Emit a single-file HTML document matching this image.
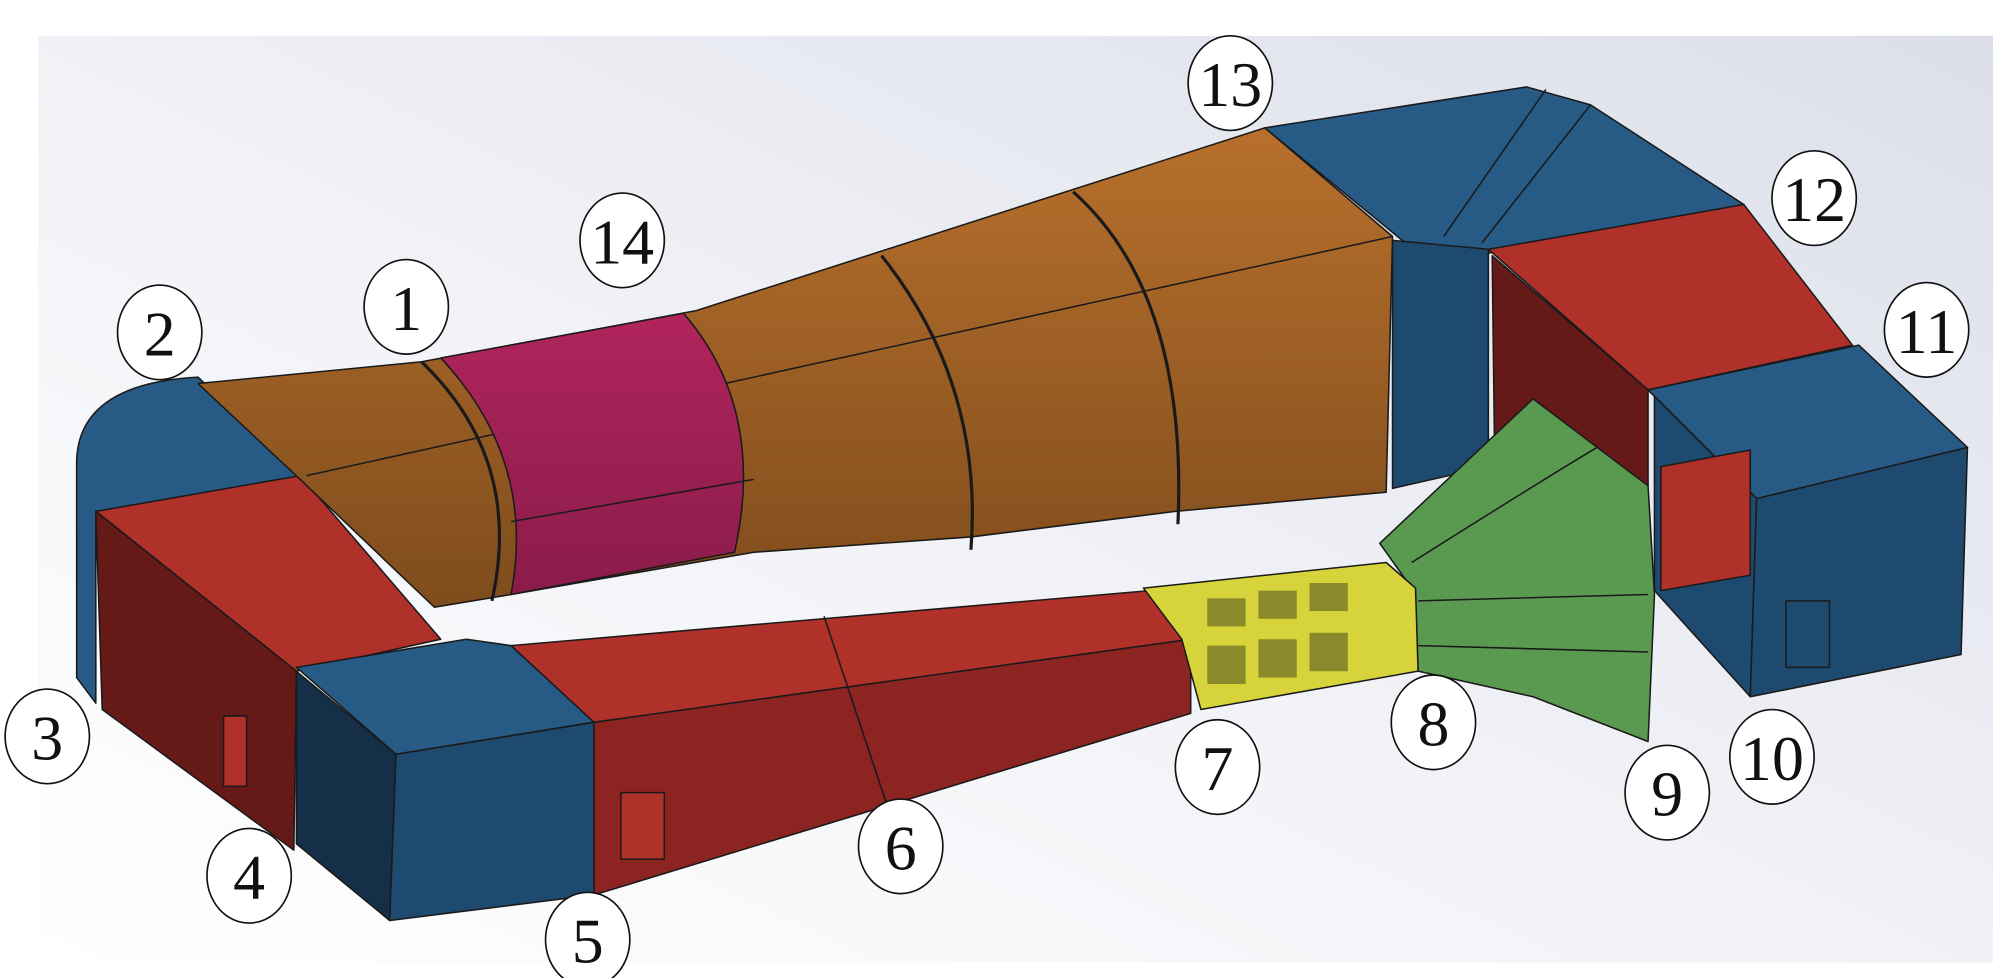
<!DOCTYPE html>
<html><head><meta charset="utf-8"><style>
html,body{margin:0;padding:0;background:#fff;}
svg{display:block;}
text{font-family:"Liberation Serif",serif;}
</style></head><body>
<svg width="1993" height="978" viewBox="0 0 1560 765" preserveAspectRatio="none" xmlns="http://www.w3.org/2000/svg">
<defs>
<linearGradient id="bg" x1="0" y1="1" x2="1" y2="0">
<stop offset="0" stop-color="#ffffff"/><stop offset="0.45" stop-color="#f2f3f7"/><stop offset="1" stop-color="#dcdfea"/>
</linearGradient>
<linearGradient id="org" x1="0" y1="0" x2="0" y2="1">
<stop offset="0" stop-color="#b8702c"/><stop offset="1" stop-color="#7e4c1c"/>
</linearGradient>
<linearGradient id="pnk" x1="0" y1="0" x2="0" y2="1">
<stop offset="0" stop-color="#b0245c"/><stop offset="1" stop-color="#8a1c4a"/>
</linearGradient>
</defs>
<rect x="0" y="0" width="1560" height="765" fill="#fff"/>
<rect x="30" y="28" width="1530" height="725" fill="url(#bg)"/>
<g stroke="#1a1a1a" stroke-width="1.2" stroke-linejoin="round">
<path d="M60,360 Q62,300 155,295 L240,375 L75,400 L75,550 L60,530 Z" fill="#275a85"/>
<polygon points="75,400 235,372 345,500 232,525" fill="#b0302a"/>
<polygon points="75,400 232,525 230,665 80,555" fill="#651a18"/>
<rect x="175" y="560" width="18" height="55" fill="#b0302a"/>
<polygon points="232,522 365,500 400,505 465,565 310,590" fill="#275a85"/>
<polygon points="232,525 310,590 305,720 232,660" fill="#152f48"/>
<polygon points="310,590 465,565 465,700 305,720" fill="#1f4a70"/>
<polygon points="400,505 900,462 932,500 465,565" fill="#b0302a"/>
<polygon points="465,565 932,500 932,558 465,700" fill="#8c2422"/>
<line x1="645" y1="482" x2="695" y2="632"/>
<rect x="486" y="620" width="34" height="52" fill="#b0302a"/>
<polygon points="155,300 330,283 545,243 990,100 1090,185 1085,385 920,400 760,420 590,432 400,465 340,475 235,375" fill="url(#org)"/>
<line x1="240" y1="372" x2="1090" y2="185"/>
<path d="M690,200 Q770,300 760,430" fill="none" stroke-width="2.5"/>
<path d="M840,150 Q930,230 922,410" fill="none" stroke-width="2.5"/>
<path d="M330,283 Q410,360 385,470" fill="none" stroke-width="2.5"/>
<path d="M345,280 L535,245 Q600,320 575,432 L400,465 Q420,360 345,280 Z" fill="url(#pnk)"/>
<line x1="400" y1="408" x2="590" y2="375"/>
<polygon points="990,100 1195,68 1245,82 1365,160 1165,198 1100,190" fill="#275a85"/>
<line x1="1130" y1="185" x2="1210" y2="70"/><line x1="1160" y1="190" x2="1245" y2="82"/>
<polygon points="1090,188 1165,195 1165,365 1090,382" fill="#1f4a70"/>
<polygon points="1165,195 1365,160 1450,270 1290,305" fill="#b0302a"/>
<polygon points="1168,200 1290,305 1290,380 1170,365" fill="#651a18"/>
<polygon points="1290,305 1455,270 1540,350 1375,390" fill="#275a85"/>
<polygon points="1295,310 1375,390 1370,545 1295,462" fill="#1f4a70"/>
<polygon points="1300,365 1370,352 1370,450 1300,462" fill="#b0302a"/>
<polygon points="1375,390 1540,350 1535,512 1370,545" fill="#1f4a70"/>
<rect x="1398" y="470" width="34" height="52" fill="#1f4a70"/>
<polygon points="1080,425 1200,312 1290,380 1295,465 1290,580 1200,545 1110,525 1105,460" fill="#5a9a50"/>
<path d="M1105,440 Q1200,380 1250,350 M1110,470 L1290,465 M1110,505 L1290,510" fill="none"/>
<polygon points="895,460 1085,440 1108,460 1110,525 940,555 925,500" fill="#d6d43a"/>
<g fill="#8a8a2a" stroke="none">
<rect x="945" y="468" width="30" height="22"/><rect x="985" y="462" width="30" height="22"/><rect x="1025" y="456" width="30" height="22"/>
<rect x="945" y="505" width="30" height="30"/><rect x="985" y="500" width="30" height="30"/><rect x="1025" y="495" width="30" height="30"/>
</g>
</g>
<g fill="#fff" stroke="#111" stroke-width="1.3" font-size="50" text-anchor="middle">
<g><ellipse cx="318" cy="240" rx="33" ry="37"/><text x="318" y="258" fill="#111" stroke="none">1</text></g>
<g><ellipse cx="125" cy="260" rx="33" ry="37"/><text x="125" y="278" fill="#111" stroke="none">2</text></g>
<g><ellipse cx="37" cy="576" rx="33" ry="37"/><text x="37" y="594" fill="#111" stroke="none">3</text></g>
<g><ellipse cx="195" cy="685" rx="33" ry="37"/><text x="195" y="703" fill="#111" stroke="none">4</text></g>
<g><ellipse cx="460" cy="735" rx="33" ry="37"/><text x="460" y="753" fill="#111" stroke="none">5</text></g>
<g><ellipse cx="705" cy="662" rx="33" ry="37"/><text x="705" y="680" fill="#111" stroke="none">6</text></g>
<g><ellipse cx="953" cy="600" rx="33" ry="37"/><text x="953" y="618" fill="#111" stroke="none">7</text></g>
<g><ellipse cx="1122" cy="565" rx="33" ry="37"/><text x="1122" y="583" fill="#111" stroke="none">8</text></g>
<g><ellipse cx="1305" cy="620" rx="33" ry="37"/><text x="1305" y="638" fill="#111" stroke="none">9</text></g>
<g><ellipse cx="1387" cy="592" rx="33" ry="37"/><text x="1387" y="610" fill="#111" stroke="none">10</text></g>
<g><ellipse cx="1508" cy="258" rx="33" ry="37"/><text x="1508" y="276" fill="#111" stroke="none">11</text></g>
<g><ellipse cx="1420" cy="155" rx="33" ry="37"/><text x="1420" y="173" fill="#111" stroke="none">12</text></g>
<g><ellipse cx="963" cy="65" rx="33" ry="37"/><text x="963" y="83" fill="#111" stroke="none">13</text></g>
<g><ellipse cx="487" cy="188" rx="33" ry="37"/><text x="487" y="206" fill="#111" stroke="none">14</text></g>
</g>
</svg>
</body></html>
